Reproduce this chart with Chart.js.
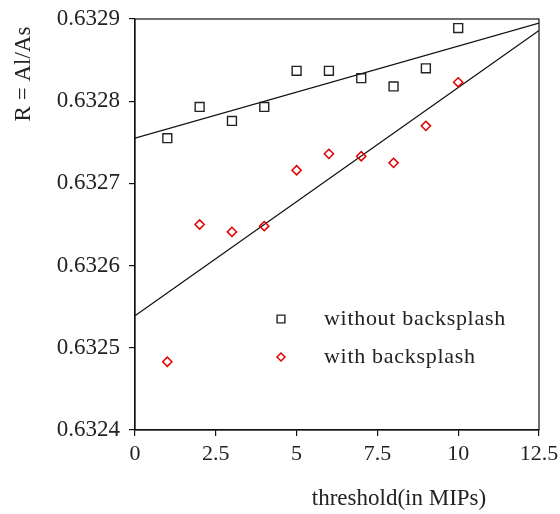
<!DOCTYPE html>
<html>
<head>
<meta charset="utf-8">
<script src="https://cdn.jsdelivr.net/npm/chart.js@4"></script>
<style>
  html, body { margin: 0; padding: 0; background: #fff; }
  #wrap { width: 560px; height: 514px; }
</style>
</head>
<body>
<div id="wrap"><canvas id="chart" width="560" height="514"></canvas></div>
<script>
const thresholds = [1, 2, 3, 4, 5, 6, 7, 8, 9, 10];
const withoutBacksplash = [0.632755, 0.632793, 0.632776, 0.632793, 0.632837, 0.632837, 0.632828, 0.632818, 0.632840, 0.632889];
const withBacksplash = [0.632483, 0.632650, 0.632641, 0.632648, 0.632716, 0.632736, 0.632733, 0.632725, 0.632770, 0.632823];
const fitX = [0, 12.5];
const fitWithout = [0.632755, 0.632895];
const fitWith = [0.632539, 0.632886];
const xTicks = [0, 2.5, 5, 7.5, 10, 12.5];
const yTicks = [0.6324, 0.6325, 0.6326, 0.6327, 0.6328, 0.6329];

const FONT = '"Liberation Serif", "DejaVu Serif", serif';
const pts = (xs, ys) => xs.map((x, i) => ({ x, y: ys[i] }));

// frame around the plot, legend inside, and the two axis titles placed like the original
const extras = {
  id: 'extras',
  afterDraw(chart) {
    const { ctx, chartArea: a } = chart;
    ctx.save();
    ctx.strokeStyle = '#111';
    ctx.lineWidth = 1.2;
    ctx.strokeRect(a.left, a.top, a.right - a.left, a.bottom - a.top);

    ctx.font = `22px ${FONT}`;
    ctx.letterSpacing = '0.7px';
    ctx.textBaseline = 'middle';
    const legend = [
      { ds: chart.data.datasets[0], y: 319, r: 5.5 },
      { ds: chart.data.datasets[1], y: 357, r: 4 },
    ];
    legend.forEach(({ ds, y, r }) => {
      ctx.fillStyle = 'rgba(0,0,0,0)';
      ctx.strokeStyle = ds.borderColor;
      ctx.lineWidth = ds.borderWidth;
      Chart.helpers.drawPoint(ctx, { pointStyle: ds.pointStyle, radius: r, borderWidth: ds.borderWidth }, 281, y);
      ctx.fillStyle = '#222';
      ctx.textAlign = 'left';
      ctx.fillText(ds.label, 324, y);
    });
    ctx.letterSpacing = '0px';

    ctx.font = `23px ${FONT}`;
    ctx.textAlign = 'center';
    ctx.fillText('threshold(in MIPs)', 399, 499);

    ctx.translate(24, 74);
    ctx.rotate(-Math.PI / 2);
    ctx.fillText('R = Al/As', 0, 0);
    ctx.restore();
  },
};

new Chart(document.getElementById('chart'), {
  type: 'scatter',
  data: {
    datasets: [
      { label: 'without backsplash', data: pts(thresholds, withoutBacksplash), pointStyle: 'rect', pointRadius: 6.3, borderColor: '#222', backgroundColor: 'transparent', borderWidth: 1.4 },
      { label: 'with backsplash', data: pts(thresholds, withBacksplash), pointStyle: 'rectRot', pointRadius: 4.6, borderColor: '#e00000', backgroundColor: 'transparent', borderWidth: 1.5 },
      { type: 'line', data: pts(fitX, fitWithout), borderColor: '#111', borderWidth: 1.2, pointRadius: 0, fill: false },
      { type: 'line', data: pts(fitX, fitWith), borderColor: '#111', borderWidth: 1.2, pointRadius: 0, fill: false },
    ],
  },
  options: {
    responsive: false,
    animation: false,
    layout: { padding: { top: 19, right: 21, left: 0, bottom: 0 } },
    plugins: { legend: { display: false }, tooltip: { enabled: false } },
    scales: {
      x: {
        type: 'linear', min: 0, max: 12.5,
        afterFit: (s) => { s.height = 84; s.paddingLeft = 0; s.paddingRight = 0; },
        afterBuildTicks: (s) => { s.ticks = xTicks.map((value) => ({ value })); },
        ticks: { color: '#222', font: { family: FONT, size: 22 }, padding: 5, maxRotation: 0, callback: (v) => String(v) },
        grid: { drawOnChartArea: false, drawTicks: true, tickLength: 6, color: '#111', lineWidth: 1.2 },
        border: { display: true, color: '#111', width: 1.2 },
      },
      y: {
        type: 'linear', min: 0.6324, max: 0.6329,
        afterFit: (s) => { s.width = 135; s.paddingTop = 0; s.paddingBottom = 0; },
        afterBuildTicks: (s) => { s.ticks = yTicks.map((value) => ({ value })); },
        ticks: { color: '#222', font: { family: FONT, size: 23 }, padding: 9, callback: (v) => v.toFixed(4) },
        grid: { drawOnChartArea: false, drawTicks: true, tickLength: 6, color: '#111', lineWidth: 1.2 },
        border: { display: true, color: '#111', width: 1.2 },
      },
    },
  },
  plugins: [extras],
});
</script>
</body>
</html>
